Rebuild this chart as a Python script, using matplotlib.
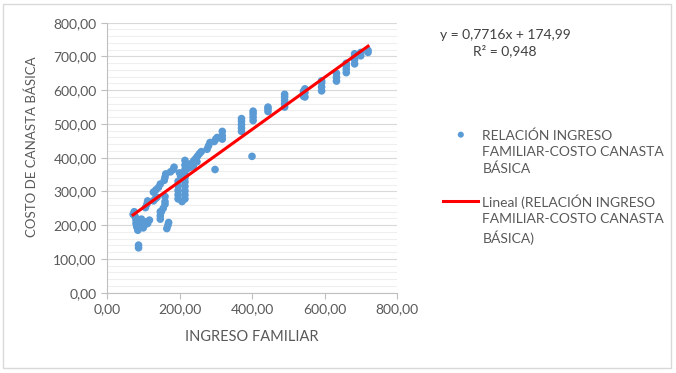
import numpy as np
import matplotlib.pyplot as plt
from matplotlib.patches import Rectangle
from matplotlib.ticker import MultipleLocator, FuncFormatter
from matplotlib.legend_handler import HandlerLine2D, HandlerPathCollection
from matplotlib.transforms import Affine2D

# ingreso familiar (x) y costo canasta basica (y)
ingreso = [72, 75, 78, 80, 80, 82, 85, 90, 92, 95, 100, 103, 108, 112, 117, 87, 87,
           106, 110, 112, 128, 133, 138, 147, 147, 147, 160, 160, 165, 168, 170,
           128, 135, 142, 147, 150, 155, 160, 158, 160, 162, 175, 183, 185,
           196, 196, 196, 196, 196, 200, 203, 207,
           215, 215, 215, 215, 215, 215, 215, 215, 215, 215,
           222, 225, 230, 235, 240, 245, 250, 255, 260, 248, 238,
           276, 280, 284, 298, 296, 300, 304, 318, 318, 318,
           371, 371, 371, 371, 371, 400, 403, 403, 403, 403,
           444, 444, 444, 490, 490, 490, 490, 490,
           542, 542, 542, 546, 546, 546, 592, 592, 592, 592,
           633, 633, 633, 660, 660, 660, 660, 683, 683, 683, 683,
           700, 700, 720, 720]
costo = [232, 240, 225, 215, 205, 195, 185, 210, 200, 218, 192, 200, 210, 205, 215, 133, 141,
         252, 262, 272, 272, 278, 283, 218, 228, 240, 270, 285, 190, 200, 208,
         298, 305, 312, 322, 240, 250, 262, 333, 342, 352, 358, 365, 372,
         278, 290, 303, 318, 330, 355, 345, 270,
         278, 290, 302, 315, 328, 340, 352, 365, 378, 392,
         368, 380, 372, 385, 392, 398, 405, 412, 418, 388, 375,
         425, 435, 445, 365, 448, 455, 460, 455, 465, 478,
         478, 488, 498, 508, 516, 404, 510, 520, 530, 538,
         537, 545, 550, 550, 560, 570, 580, 588,
         582, 590, 597, 580, 593, 604, 598, 610, 622, 628,
         627, 638, 650, 652, 662, 672, 680, 678, 690, 700, 708,
         702, 712, 712, 718]

# linea de tendencia (Excel)
pendiente = 0.7716
intercepto = 174.99
r2 = 0.948

serie = 'RELACIÓN INGRESO\nFAMILIAR-COSTO CANASTA\nBÁSICA'
serie_tend = 'Lineal (RELACIÓN INGRESO\nFAMILIAR-COSTO CANASTA\nBÁSICA)'

plt.rcParams['font.family'] = ['Lato', 'DejaVu Sans']
gris = '#595959'
subir = 13.5  # puntos: simbolo de leyenda alineado con la primera linea


class LineaArriba(HandlerLine2D):
    def create_artists(self, legend, orig_handle, xdescent, ydescent, width, height, fontsize, trans):
        t = Affine2D().translate(0, subir) + trans
        return super().create_artists(legend, orig_handle, xdescent, ydescent, width, height, fontsize, t)


class PuntoArriba(HandlerPathCollection):
    def create_artists(self, legend, orig_handle, xdescent, ydescent, width, height, fontsize, trans):
        t = Affine2D().translate(0, subir) + trans
        return super().create_artists(legend, orig_handle, xdescent, ydescent, width, height, fontsize, t)


fig = plt.figure(figsize=(6.76, 3.73), dpi=100)
fig.patches.append(Rectangle((0.005, 0.013), 0.988, 0.975, transform=fig.transFigure,
                             fill=False, edgecolor='#D9D9D9', linewidth=1))
ax = fig.add_axes([0.1583, 0.2153, 0.4290, 0.7238])

x = np.array(ingreso)
y = np.array(costo)
pts = ax.scatter(x, y, s=30, color='#5B9BD5', edgecolors='none', zorder=3, label=serie)
xt = np.array([x.min(), x.max()])
linea, = ax.plot(xt, pendiente * xt + intercepto, color='#FF0000', linewidth=2.2, zorder=4, label=serie_tend)

ax.set_xlim(0, 800)
ax.set_ylim(0, 800)
ax.xaxis.set_major_locator(MultipleLocator(200))
ax.yaxis.set_major_locator(MultipleLocator(100))
ax.yaxis.set_minor_locator(MultipleLocator(20))
fmt = FuncFormatter(lambda v, p: '{:.2f}'.format(v).replace('.', ','))
ax.xaxis.set_major_formatter(fmt)
ax.yaxis.set_major_formatter(fmt)
ax.grid(axis='y', which='major', color='#D9D9D9', linewidth=0.8)
ax.grid(axis='y', which='minor', color='#EFEFEF', linewidth=0.8)
ax.set_axisbelow(True)
for s in ['top', 'right']:
    ax.spines[s].set_visible(False)
for s in ['left', 'bottom']:
    ax.spines[s].set_color('#BFBFBF')
ax.tick_params(axis='both', which='major', length=4, color='#BFBFBF', labelsize=10, labelcolor=gris)
ax.tick_params(axis='y', which='minor', length=0)

ax.set_xlabel('INGRESO FAMILIAR', fontsize=10.5, color=gris, labelpad=11)
ax.set_ylabel('COSTO DE CANASTA BÁSICA', fontsize=9.5, color=gris)
ax.yaxis.set_label_coords(-0.237, 0.54)

fig.text(0.747, 0.884, 'y = 0,7716x + 174,99\nR² = {:.3f}'.format(r2).replace('.', ','),
         ha='center', va='center', fontsize=10, color='#404040', linespacing=1.3, multialignment='center')

leg = ax.legend(handles=[pts, linea], loc='center left', bbox_to_anchor=(1.117, 0.391), frameon=False,
                fontsize=10, labelcolor=gris, handlelength=2.5, handletextpad=0.3,
                labelspacing=1.45, markerscale=0.8,
                handler_map={type(pts): PuntoArriba(), type(linea): LineaArriba()})
for t in leg.get_texts():
    t.set_linespacing(1.4)

fig.savefig('out.png', dpi=100)
